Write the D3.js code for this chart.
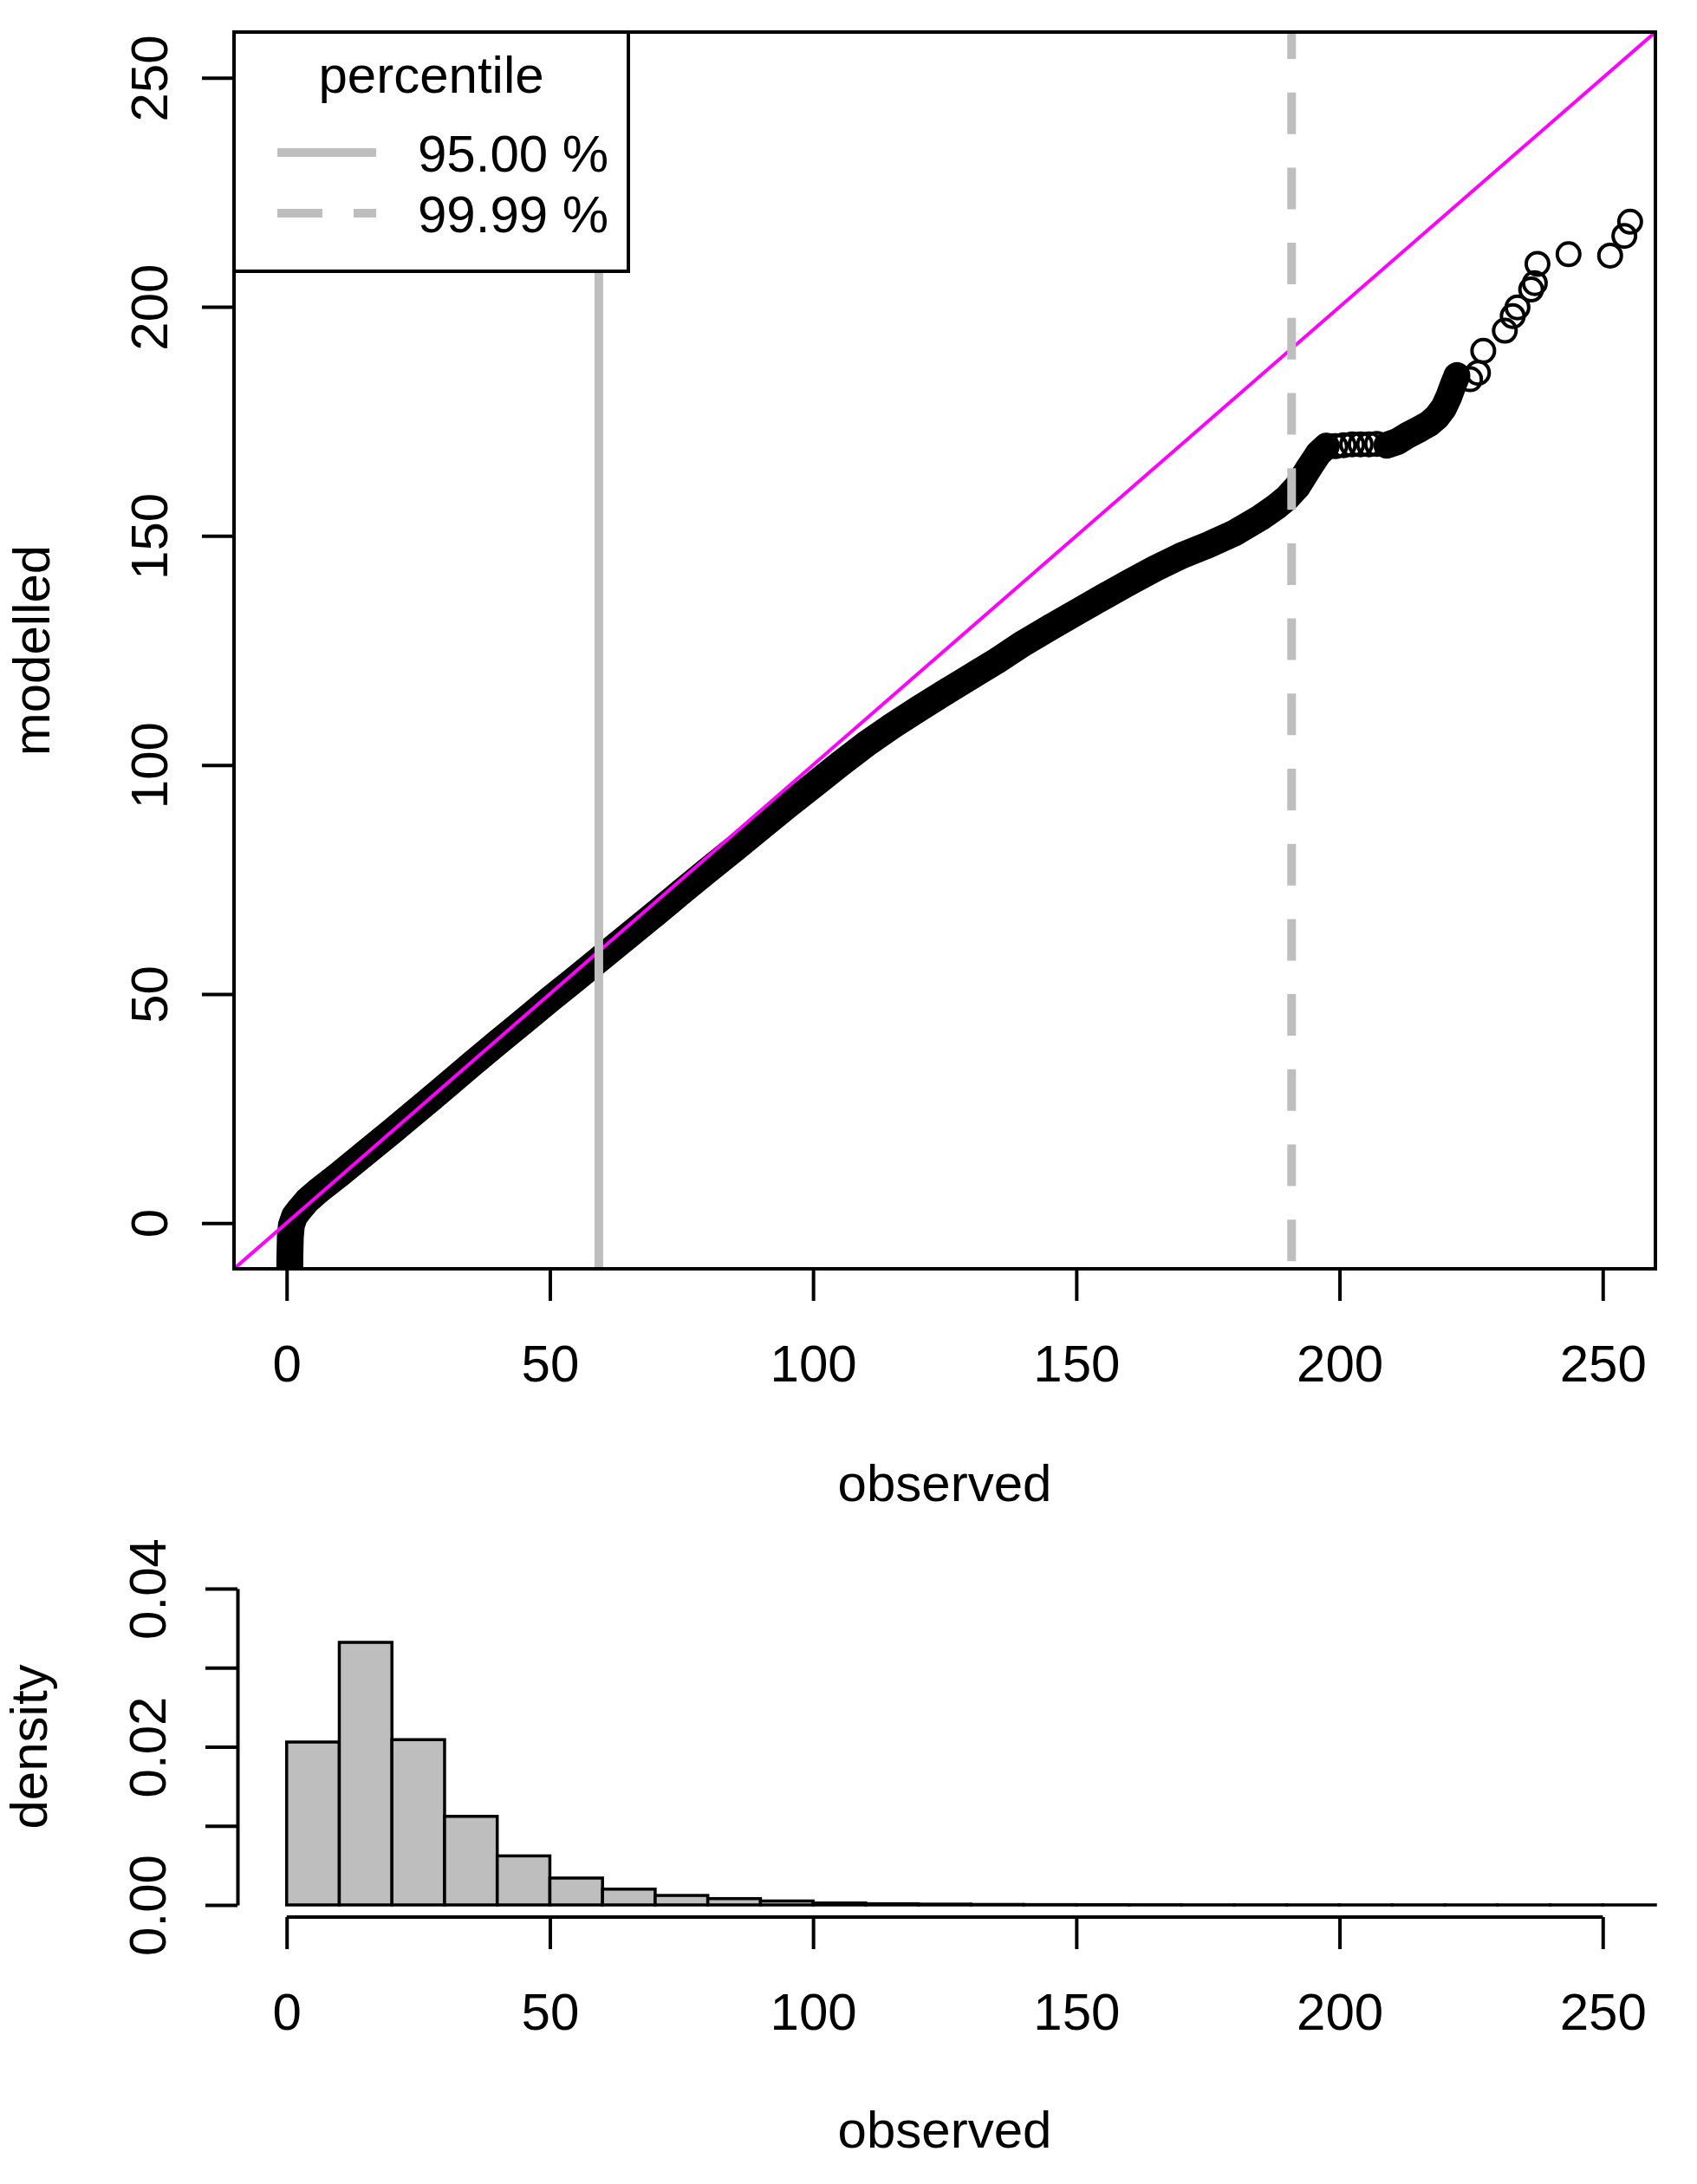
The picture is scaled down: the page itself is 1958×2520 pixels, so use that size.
<!DOCTYPE html>
<html>
<head>
<meta charset="utf-8">
<script src="https://cdn.jsdelivr.net/npm/d3@7"></script>
<style>
  body { margin: 0; background: #fff }
  svg { display: block }
</style>
</head>
<body>
<script>
// dense part of the observed / modelled quantiles (points overlap into a band)
const bandObs = [0.6, 0.6, 0.7, 0.9, 1.5, 2.5, 4, 6, 8, 10, 15, 20, 25, 30, 35, 40, 45, 50, 55, 60, 65, 70, 75, 80, 85, 90, 95, 100, 105, 110, 115, 120, 125, 130, 135, 140, 145, 150, 155, 160, 165, 170, 175, 180, 185, 188, 190, 192, 194, 196, 197.5]
const bandMod = [-16, -8, -3, -0.5, 1.5, 3, 5, 7, 8.8, 10.6, 15.3, 20, 24.8, 29.6, 34.5, 39.3, 44, 48.8, 53.4, 58.1, 62.8, 67.5, 72.3, 77, 81.6, 86.3, 91, 95.5, 100.1, 104.5, 108.5, 112.2, 115.8, 119.3, 122.8, 126.6, 130, 133.3, 136.6, 139.8, 142.9, 145.7, 148, 150.6, 154, 156.4, 158.3, 160.8, 164.5, 168, 169.6]
// second dense stretch near the upper end
const band2Obs = [209, 211, 213, 215, 217, 218.5, 219.8, 220.8, 221.6, 222.3]
const band2Mod = [169.8, 170.6, 172, 173.2, 174.5, 176, 178, 180.5, 183, 185]
// single points in the tail
const tailObs = [199.2, 200.8, 202.4, 204, 205.6, 207.1, 224.8, 226.3, 227.3, 231.4, 232.9, 233.8, 236.4, 237.1, 237.6, 243.5, 251.4, 254.1, 255.2]
const tailMod = [169.6, 169.8, 170, 170, 170, 170.1, 184.2, 185.6, 190.4, 194.8, 198, 199.9, 203.8, 205.2, 209.4, 211.5, 211.2, 215.5, 218.6]

const percentileNames = ['95.00 %', '99.99 %']
const percentileObs = [59.3, 190.9]

const xTicks = [0, 50, 100, 150, 200, 250]
const yTicks = [0, 50, 100, 150, 200, 250]

// histogram of observed, density per bin
const histBreaks = [0, 10, 20, 30, 40, 50, 60, 70, 80, 90, 100, 110, 120, 130, 140, 150, 160, 170, 180, 190, 200, 210, 220, 230, 240, 250, 260]
const histDensity = [0.0206, 0.0332, 0.0209, 0.0112, 0.0062, 0.0034, 0.0020, 0.0012, 0.0008, 0.0005, 0.00025, 0.00015, 0.0001, 0.00006, 0.00004, 0.00003, 0.00002, 0.00001, 0.00001, 0.000005, 0.000003, 0.000003, 0.000002, 0.000001, 0.000001, 0.000001]
const densityTicks = [0, 0.01, 0.02, 0.03, 0.04]
const densityLabels = ['0.00', '', '0.02', '', '0.04']

const FONT = '"Liberation Sans", Arial, Helvetica, sans-serif'
const GRAY = '#bebebe'

const svg = d3.select('body').append('svg')
  .attr('width', 1958).attr('height', 2520)
  .attr('font-family', FONT)

svg.append('rect').attr('width', 1958).attr('height', 2520).attr('fill', '#fff')

// ---- main qq plot
const x = d3.scaleLinear().domain([-10, 260]).range([270, 1910])
const y = d3.scaleLinear().domain([-10, 260]).range([1464, 37])

svg.append('clipPath').attr('id', 'plotclip')
  .append('rect')
  .attr('x', x(-10)).attr('y', y(260))
  .attr('width', x(260) - x(-10)).attr('height', y(-10) - y(260))

const plot = svg.append('g').attr('clip-path', 'url(#plotclip)')

const line = d3.line().x(d => x(d[0])).y(d => y(d[1]))
const bands = [d3.zip(bandObs, bandMod), d3.zip(band2Obs, band2Mod)]

bands.forEach(function (pts) {
  plot.append('path')
    .attr('d', line(pts))
    .attr('fill', 'none')
    .attr('stroke', '#000')
    .attr('stroke-width', 31)
    .attr('stroke-linejoin', 'round')
    .attr('stroke-linecap', 'round')
})

const allPts = bands[0].concat(bands[1], d3.zip(tailObs, tailMod))
plot.selectAll('circle.pt')
  .data(allPts)
  .enter().append('circle')
  .attr('class', 'pt')
  .attr('cx', d => x(d[0]))
  .attr('cy', d => y(d[1]))
  .attr('r', 13)
  .attr('fill', 'none')
  .attr('stroke', '#000')
  .attr('stroke-width', 4)

// 1:1 line
plot.append('line')
  .attr('x1', x(-10)).attr('y1', y(-10))
  .attr('x2', x(260)).attr('y2', y(260))
  .attr('stroke', '#ff00ff')
  .attr('stroke-width', 4)

// percentile lines
percentileObs.forEach(function (v, i) {
  plot.append('line')
    .attr('x1', x(v)).attr('x2', x(v))
    .attr('y1', y(260)).attr('y2', y(-10))
    .attr('stroke', GRAY)
    .attr('stroke-width', 10)
    .attr('stroke-dasharray', i === 1 ? '48,38.7' : null)
    .attr('stroke-dashoffset', i === 1 ? 17 : null)
})

// axes
const gx = svg.append('g')
  .attr('transform', 'translate(0,' + y(-10) + ')')
  .call(d3.axisBottom(x).tickValues(xTicks).tickSize(37).tickPadding(50))
gx.select('.domain').remove()

const gy = svg.append('g')
  .attr('transform', 'translate(' + x(-10) + ',0)')
  .call(d3.axisLeft(y).tickValues(yTicks).tickSize(37))
gy.select('.domain').remove()
gy.selectAll('.tick text')
  .attr('transform', 'rotate(-90)')
  .attr('x', 0).attr('y', -77).attr('dy', 0)
  .attr('text-anchor', 'middle')

svg.append('rect')
  .attr('x', x(-10)).attr('y', y(260))
  .attr('width', x(260) - x(-10)).attr('height', y(-10) - y(260))
  .attr('fill', 'none')
  .attr('stroke', '#000')
  .attr('stroke-width', 4)

svg.append('text')
  .attr('x', (x(-10) + x(260)) / 2).attr('y', 1732)
  .attr('text-anchor', 'middle')
  .attr('font-size', 60)
  .text('observed')

svg.append('text')
  .attr('transform', 'translate(57,' + (y(-10) + y(260)) / 2 + ') rotate(-90)')
  .attr('text-anchor', 'middle')
  .attr('font-size', 60)
  .text('modelled')

// legend
const leg = svg.append('g')
leg.append('rect')
  .attr('x', x(-10)).attr('y', y(260))
  .attr('width', 725 - x(-10)).attr('height', 313 - y(260))
  .attr('fill', '#fff')
  .attr('stroke', '#000')
  .attr('stroke-width', 4)
leg.append('text')
  .attr('x', (x(-10) + 725) / 2).attr('y', 107)
  .attr('text-anchor', 'middle')
  .attr('font-size', 60)
  .text('percentile')
percentileNames.forEach(function (name, i) {
  const ly = 176 + i * 70
  leg.append('line')
    .attr('x1', 320).attr('x2', 434)
    .attr('y1', ly).attr('y2', ly)
    .attr('stroke', GRAY)
    .attr('stroke-width', 10)
    .attr('stroke-dasharray', i === 1 ? '52,36' : null)
  leg.append('text')
    .attr('x', 482).attr('y', ly + 22)
    .attr('font-size', 60)
    .text(name)
})

// ---- histogram
const yd = d3.scaleLinear().domain([0, 0.04]).range([2198, 1833])

svg.append('g').selectAll('rect')
  .data(histDensity)
  .enter().append('rect')
  .attr('x', (d, i) => x(histBreaks[i]))
  .attr('width', (d, i) => x(histBreaks[i + 1]) - x(histBreaks[i]))
  .attr('y', d => yd(d))
  .attr('height', d => yd(0) - yd(d))
  .attr('fill', GRAY)
  .attr('stroke', '#000')
  .attr('stroke-width', 3.5)

const hx = svg.append('g')
  .attr('transform', 'translate(0,2212)')
  .call(d3.axisBottom(x).tickValues(xTicks).tickSize(37).tickPadding(50))
hx.select('.domain').remove()
hx.append('line')
  .attr('x1', x(xTicks[0])).attr('x2', x(xTicks[xTicks.length - 1]))
  .attr('stroke', '#000')

const hy = svg.append('g')
  .attr('transform', 'translate(274,0)')
  .call(d3.axisLeft(yd).tickValues(densityTicks).tickFormat((d, i) => densityLabels[i]).tickSize(37).tickSizeOuter(0))
hy.selectAll('.tick text')
  .attr('transform', 'rotate(-90)')
  .attr('x', 0).attr('y', -83).attr('dy', 0)
  .attr('text-anchor', 'middle')

svg.append('text')
  .attr('x', (x(-10) + x(260)) / 2).attr('y', 2478)
  .attr('text-anchor', 'middle')
  .attr('font-size', 60)
  .text('observed')

svg.append('text')
  .attr('transform', 'translate(54,' + (yd(0) + yd(0.04)) / 2 + ') rotate(-90)')
  .attr('text-anchor', 'middle')
  .attr('font-size', 60)
  .text('density')

// common axis styling
svg.selectAll('.tick line, .domain').attr('stroke', '#000').attr('stroke-width', 4)
hx.selectAll('line').attr('stroke-width', 4)
;[gx, gy, hx, hy].forEach(function (g) {
  g.attr('font-size', 60).attr('font-family', FONT)
  g.selectAll('text').attr('fill', '#000')
})
</script>
</body>
</html>
